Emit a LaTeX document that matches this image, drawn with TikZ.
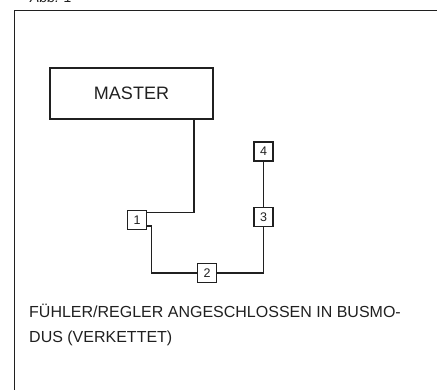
\documentclass[tikz,border=0pt]{standalone}
\usepackage{fontspec}
\setmainfont{Liberation Sans}
\usetikzlibrary{calc}
\definecolor{ink}{HTML}{202020}
\tikzset{
  wire/.style={draw=ink, line width=1.5pt},
  frame/.style={draw=ink, line width=1.4pt},
  masterbox/.style={draw=ink, line width=1.7pt, minimum width=163pt, minimum height=51pt, inner sep=0pt, font=\fontsize{18}{20}\selectfont, text=ink},
  unit/.style={draw=ink, line width=1.9pt, minimum width=19pt, minimum height=19pt, inner sep=0pt, font=\fontsize{12.5}{14}\selectfont, text=ink},
  caption/.style={anchor=north west, align=left, inner sep=0pt, text=ink, font=\fontsize{16}{25}\selectfont}
}
\begin{document}
\begin{tikzpicture}[x=1pt, y=-1pt]
\useasboundingbox (0,0) rectangle (437,389);
\begin{scope}
\clip (0,0) rectangle (437,389);
\node[anchor=base west, inner sep=0pt, text=ink, font=\itshape\fontsize{14}{16}\selectfont] (abb) at (30,2) {Abb. 1};
\draw[frame] (14.5,392) -- (14.5,10.5) -- (440,10.5);
\end{scope}
\node[masterbox] (master) at (131.5,93.5) {MASTER};
\node[unit] (b1) at (137,220) {1};
\node[unit] (b2) at (207,273) {2};
\node[unit] (b3) at (263.5,217) {3};
\node[unit] (b4) at (263.5,151.5) {4};
\coordinate (mo) at ($(master.south east)+(-20,0)$);
\draw[wire] (mo) |- ($(b1.north east)+(0,3)$);
\draw[wire] ($(b1.south east)+(0,-4.5)$) -| ($(b1.south east)+(4,0)$) |- (b2.west);
\draw[wire] (b2.east) -| (b3.south);
\draw[wire] (b3.north) -- (b4.south);
\node[caption] (cap) at (29,304) {FÜHLER/REGLER ANGESCHLOSSEN IN BUSMO-\\DUS (VERKETTET)};
\end{tikzpicture}
\end{document}
